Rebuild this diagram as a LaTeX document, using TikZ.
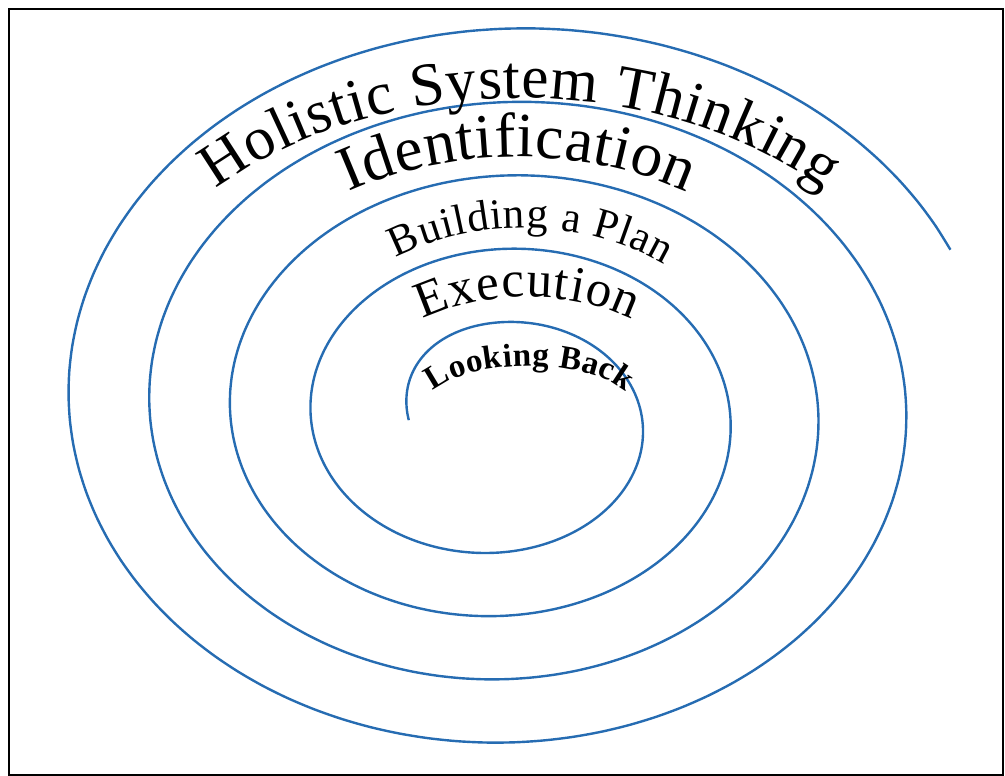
\documentclass[tikz,border=0pt]{standalone}
\usepackage{fontspec}
\newfontfamily\wordart{Liberation Serif}
\usetikzlibrary{decorations.text}
\definecolor{spiralblue}{RGB}{38,108,178}
\newcommand\hstfont{\wordart\fontsize{61}{70}\selectfont}
\newcommand\idfont{\wordart\fontsize{63}{70}\selectfont}
\newcommand\planfont{\wordart\fontsize{43}{50}\selectfont}
\newcommand\execfont{\wordart\fontsize{51}{58}\selectfont}
\newcommand\backfont{\wordart\bfseries\fontsize{33}{40}\selectfont}
\tikzset{
  spiral/.style={draw=spiralblue, line width=2.4pt},
  arctext/.style={decorate, decoration={text along path, text={#1}, text align=fit to path}}
}
\begin{document}
\begin{tikzpicture}[x=1pt,y=1pt]
\useasboundingbox (0,0) rectangle (1005,776);
\draw[line width=2.5pt] (9,1) rectangle (1003,767);

% the spiral, from the centre outwards
\draw[spiral] plot[domain=-88:1507, samples=400, smooth, variable=\t]
  ({495.9+0.010*\t+(124.5+0.2342*\t+0.2*min(\t,0))*sin(\t)},
   {354.2+0.0142*\t+(99.2+0.190*\t)*cos(\t)});

% the five labels, bent over the turns
\path[arctext={|\hstfont|Holistic System Thinking}] (520,366) ++(135:430 and 312)
  arc[start angle=135, end angle=45, x radius=430, y radius=312];
\path[arctext={|\idfont|Identification}] (518,366) ++(120.5:333 and 253)
  arc[start angle=120.5, end angle=59.5, x radius=333, y radius=253];
\path[arctext={|\planfont|Building a Plan}] (524,366) ++(123.3:233 and 182)
  arc[start angle=123.3, end angle=53, x radius=233, y radius=182];
\path[arctext={|\execfont|Execution}] (527,366) ++(126.5:175 and 113)
  arc[start angle=126.5, end angle=53, x radius=175, y radius=113];
\path[arctext={|\backfont|Looking Back}] (529,366) ++(155:106 and 44)
  arc[start angle=155, end angle=24, x radius=106, y radius=44];
\end{tikzpicture}
\end{document}
